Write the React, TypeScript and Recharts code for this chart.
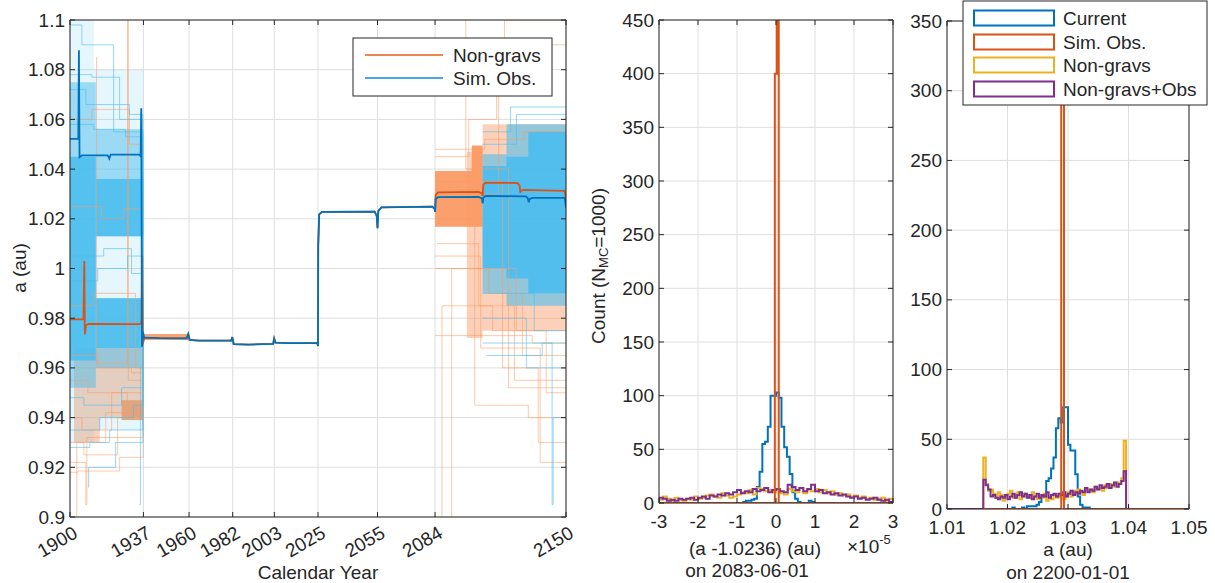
import React from "react";
import { ComposedChart, Line, Area, XAxis, YAxis, CartesianGrid } from "recharts";

const W = 1215;
const H = 583;
const FONT = "Helvetica, Arial, 'Liberation Sans', sans-serif";
const INK = "#262626";
const GRID = "#dedede";

const C_CURRENT = "#0072BD";
const C_SIMOBS = "#D95319";
const C_NONGRAV = "#EDB120";
const C_NGOBS = "#7E2F8E";
const C_CLONE_NG = "#FB9A64";
const C_CLONE_SO = "#4DBEEE";

// ---------- left panel: semi-major axis vs year ----------
const yearTicks = [1900, 1937, 1960, 1982, 2003, 2025, 2055, 2084, 2150];
const aTicks = [0.9, 0.92, 0.94, 0.96, 0.98, 1, 1.02, 1.04, 1.06, 1.08, 1.1];

// nominal orbits [year, a]
const nongravNominalEarly = [
  [1900, 0.9795], [1906.8, 0.9796], [1907.2, 1.003], [1907.5, 0.9735], [1908, 0.9772],
  [1909.5, 0.9777], [1935.3, 0.9776], [1936, 0.9785], [1936.3, 1.0055], [1936.7, 0.9695],
  [1937.2, 0.9712],
];
const simObsNominalEarly = [
  [1900, 1.0522], [1904.2, 1.0522], [1904.5, 1.0878], [1904.8, 1.0448], [1906, 1.0455],
  [1919, 1.0455], [1919.8, 1.0442], [1920.5, 1.0458], [1935, 1.0458], [1935.6, 1.0452],
  [1935.9, 1.0645], [1936.3, 0.9685], [1936.8, 0.9745], [1937.2, 0.9728],
];
const nominalShared = [
  [1937.5, 0.9722], [1945, 0.972], [1958.8, 0.9719], [1959.6, 0.9736], [1960.3, 0.9713],
  [1965, 0.971], [1981.3, 0.971], [1981.8, 0.9724], [1982.5, 0.9696], [1990, 0.9694],
  [2002.4, 0.9697], [2002.9, 0.9718], [2003.6, 0.9702], [2010, 0.97], [2024.6, 0.9701],
  [2025, 0.9688], [2025.1, 1.009], [2025.6, 1.0218], [2027, 1.0228], [2053.5, 1.0229],
  [2054.6, 1.0212], [2055, 1.0162], [2055.4, 1.0232], [2057, 1.0246], [2082.5, 1.0249],
  [2083.8, 1.024],
];
const nongravNominalLate = [
  [2084, 1.0228], [2084.3, 1.0296], [2085.5, 1.0306], [2106, 1.0308], [2107.6, 1.0302],
  [2108, 1.0292], [2108.3, 1.0338], [2109.5, 1.0345], [2125.5, 1.0344], [2126.6, 1.0334],
  [2127, 1.0305], [2127.4, 1.0314], [2129, 1.0316], [2149.2, 1.0312], [2149.6, 1.0302],
  [2150, 1.0262],
];
const simObsNominalLate = [
  [2084, 1.0228], [2084.3, 1.028], [2085.5, 1.0287], [2106, 1.0288], [2107.6, 1.0282],
  [2108, 1.0262], [2108.3, 1.0285], [2109.5, 1.0292], [2129.8, 1.029], [2130.8, 1.0282],
  [2131.2, 1.0266], [2131.6, 1.0279], [2133, 1.0284], [2149.4, 1.0284], [2150, 1.0245],
];

// dense clone envelopes [year, low a, high a], drawn as steps
const ngLowerEarly = [[1902, 0.93, 0.968], [1915, 0.94, 0.968], [1937, 0.94, 0.968]];
const ngDenseEarly = [[1926, 0.939, 0.947], [1937, 0.939, 0.947]];
const ngBand1937 = [[1937.3, 0.9712, 0.9736], [1960, 0.9712, 0.9736]];
const ngMedLate = [[2100, 0.972, 1.047], [2108, 0.975, 1.058], [2150, 0.975, 1.058]];
const ngDenseLate = [[2084, 1.0168, 1.0392], [2102.5, 1.0168, 1.0495], [2108, 1.0168, 1.0495]];

const soFaintEarly = [[1900, 0.93, 1.1], [1912, 0.935, 1.08], [1937, 0.935, 1.08]];
const soMedEarlyA = [[1900, 0.952, 1.075], [1913, 0.952, 1.075]];
const soMedEarlyB = [[1913, 0.96, 0.988], [1937, 0.96, 0.988]];
const soMedEarlyC = [[1913, 1.013, 1.056], [1937, 1.013, 1.056]];
const soDenseEarlyA = [[1900, 0.963, 1.045], [1913, 0.963, 1.045]];
const soDenseEarlyB = [[1913, 0.968, 0.988], [1937, 0.968, 0.988]];
const soDenseEarlyC = [[1913, 1.013, 1.036], [1937, 1.013, 1.036]];
const soMedLate = [[2108, 0.99, 1.046], [2120, 0.985, 1.058], [2150, 0.985, 1.058]];
const soDenseLate = [[2108, 1.0, 1.0412], [2120, 0.996, 1.045], [2131, 0.99, 1.055], [2150, 0.99, 1.055]];

// a few individual clone tracks [year, a], drawn as steps
const ngClonesEarly = [
  [[1900, 0.93], [1907, 0.925], [1924, 0.94], [1936.8, 0.9725], [1937.4, 0.9725]],
  [[1900, 0.955], [1909, 0.95], [1929, 0.945], [1936.6, 0.9725], [1937.4, 0.9725]],
  [[1900, 0.918], [1904, 0.9185], [1925, 0.924], [1936.9, 0.9725], [1937.4, 0.9725]],
  [[1900, 1.06], [1911, 1.064], [1930, 1.05], [1936.5, 0.9725], [1937.4, 0.9725]],
  [[1900, 0.965], [1914, 0.96], [1931, 0.958], [1936.7, 0.9725], [1937.4, 0.9725]],
  [[1900, 0.94], [1906, 0.935], [1921, 0.95], [1936.9, 0.9725], [1937.4, 0.9725]],
  [[1900, 1.025], [1916, 1.02], [1927, 1.024], [1936.6, 0.9725], [1937.4, 0.9725]],
  [[1903, 0.9], [1903.4, 0.93], [1918, 0.942], [1936.8, 0.9725], [1937.4, 0.9725]],
  [[1900, 0.985], [1912, 0.99], [1933, 0.96], [1936.8, 0.9725], [1937.4, 0.9725]],
  [[1913, 1.085], [1913.4, 0.962], [1929, 1.1], [1929.4, 0.955], [1937.4, 0.955]],
  [[1900, 0.922], [1908, 0.905], [1908.5, 0.932], [1936.8, 0.9725], [1937.4, 0.9725]],
];
const soClonesEarly = [
  [[1900, 1.078], [1911, 1.077], [1925, 1.06], [1936.6, 0.9725], [1937.4, 0.9725]],
  [[1900, 1.072], [1908, 1.066], [1930, 1.062], [1936.7, 0.9725], [1937.4, 0.9725]],
  [[1900, 1.098], [1906, 1.09], [1922, 1.055], [1936.8, 0.9725], [1937.4, 0.9725]],
  [[1900, 0.928], [1910, 0.93], [1920, 0.935], [1936.7, 0.9725], [1937.4, 0.9725]],
  [[1900, 0.935], [1915, 0.94], [1932, 0.945], [1936.9, 0.9725], [1937.4, 0.9725]],
  [[1900, 0.948], [1907, 0.945], [1926, 0.952], [1936.8, 0.9725], [1937.4, 0.9725]],
  [[1900, 1.058], [1912, 1.056], [1928, 1.053], [1936.6, 0.9725], [1937.4, 0.9725]],
  [[1900, 0.995], [1914, 1.0], [1929, 1.005], [1936.9, 0.9725], [1937.4, 0.9725]],
  [[1900, 1.005], [1917, 1.008], [1931, 0.998], [1936.6, 0.9725], [1937.4, 0.9725]],
  [[1909, 0.912], [1909.4, 0.92], [1923, 0.93], [1936.8, 0.9725], [1937.4, 0.9725]],
  [[1935, 0.905], [1935.5, 0.96], [1937.4, 0.96]],
];
const ngClonesLate = [
  [[2084, 0.973], [2108, 0.973], [2133, 0.97], [2150, 0.97]],
  [[2084, 1.0], [2111, 0.99], [2128, 0.965], [2150, 0.965]],
  [[2085, 1.01], [2106, 0.985], [2124, 0.955], [2150, 0.955]],
  [[2084, 1.045], [2101, 1.06], [2115, 1.09], [2150, 1.09]],
  [[2084, 1.035], [2118, 0.96], [2136, 0.93], [2150, 0.93]],
  [[2086, 1.02], [2104, 0.945], [2131, 0.94], [2150, 0.94]],
  [[2084, 1.048], [2109, 1.052], [2129, 1.055], [2150, 1.055]],
  [[2087, 0.9], [2087.5, 0.985], [2113, 0.975], [2140, 0.95], [2150, 0.95]],
  [[2084, 1.005], [2107, 0.968], [2137, 0.922], [2150, 0.922]],
  [[2090, 1.03], [2116, 1.07], [2119, 1.1], [2150, 1.1]],
  [[2092, 0.9], [2092.4, 1.0], [2125, 0.975], [2150, 0.975]],
  [[2099, 1.1], [2099.5, 1.04], [2121, 0.952], [2150, 0.952]],
];
const soClonesLate = [
  [[2108, 0.98], [2130, 0.96], [2150, 0.96]],
  [[2108, 1.05], [2125, 1.062], [2150, 1.062]],
  [[2108, 0.99], [2134, 0.975], [2150, 0.975]],
  [[2108, 1.055], [2122, 1.065], [2150, 1.065]],
  [[2108, 0.97], [2143, 0.905], [2143.5, 0.94], [2150, 0.94]],
  [[2110, 0.965], [2138, 0.97], [2150, 0.97]],
];

// ---------- middle panel: histogram on 2083-06-01, x in units of 1e-5 au ----------
const midTicksX = [-3, -2, -1, 0, 1, 2, 3];
const midTicksY = [0, 50, 100, 150, 200, 250, 300, 350, 400, 450];
const midBinStart = -3;
const midBinWidth = 0.1;
const midNonGravs = [
  3, 6, 4, 2, 5, 3, 2, 4, 3, 6,
  4, 5, 7, 8, 6, 5, 9, 7, 5, 6,
  8, 10, 9, 12, 8, 14, 13, 11, 12, 10,
  12, 9, 8, 13, 11, 10, 14, 9, 12, 11,
  13, 10, 12, 9, 11, 8, 9, 7, 8, 6,
  7, 5, 6, 4, 5, 3, 4, 5, 2, 4,
];
const midNonGravsObs = [
  5, 4, 2, 3, 2, 4, 3, 4, 5, 3,
  5, 6, 4, 7, 6, 8, 7, 9, 8, 10,
  12, 9, 11, 10, 13, 11, 12, 14, 10, 12,
  13, 11, 10, 17, 15, 12, 14, 11, 13, 17,
  11, 12, 9, 10, 8, 9, 7, 8, 6, 5,
  6, 4, 5, 3, 4, 5, 3, 2, 3, 1,
];
const midCurrentStart = -0.84;
const midCurrentWidth = 0.07;
const midCurrent = [1, 2, 2, 3, 4, 15, 29, 55, 57, 71, 100, 100, 103, 98, 71, 52, 43, 27, 10, 4, 1, 0, 0, 0, 2, 1];
const midSimObsStart = -0.03;
const midSimObsWidth = 0.05;
const midSimObs = [400, 520];

// ---------- right panel: histogram on 2200-01-01 ----------
const rightTicksX = [1.01, 1.02, 1.03, 1.04, 1.05];
const rightTicksY = [0, 50, 100, 150, 200, 250, 300, 350];
const rightBinStart = 1.016;
const rightBinWidth = 0.0004;
const rightNonGravs = [
  37, 18, 13, 14, 11, 8, 12, 10, 6, 9,
  11, 13, 8, 10, 12, 7, 9, 11, 10, 8,
  12, 9, 7, 10, 8, 11, 6, 9, 7, 10,
  8, 9, 11, 7, 10, 12, 9, 13, 11, 14,
  12, 10, 15, 13, 14, 12, 16, 14, 15, 13,
  17, 15, 18, 16, 17, 19, 18, 22, 49,
];
const rightNonGravsObs = [
  21, 17, 14, 9, 10, 8, 7, 9, 8, 10,
  7, 9, 11, 8, 10, 12, 9, 11, 8, 10,
  7, 9, 11, 8, 10, 9, 12, 8, 10, 11,
  9, 11, 10, 12, 9, 11, 13, 10, 12, 11,
  13, 12, 15, 12, 14, 13, 16, 14, 17, 15,
  16, 18, 15, 17, 19, 16, 18, 20, 27,
];
const rightCurrentStart = 1.0208;
const rightCurrent = [1, 0, 0, 0, 1, 0, 2, 2, 2, 2, 3, 5, 9, 10, 20, 22, 29, 37, 58, 65, 62, 73, 73, 46, 42, 42, 25, 9, 3, 1, 1, 1];
const rightSimObsStart = 1.02888;
const rightSimObsWidth = 0.00046;
const rightSimObs = [600];

// ---------- helpers ----------
const toLine = (rows: number[][]) => rows.map(([x, y]) => ({ x, y }));
const toBand = (rows: number[][]) => rows.map(([x, lo, hi]) => ({ x, r: [lo, hi] }));

function stairs(start: number, width: number, counts: number[], lo: number, hi: number) {
  const rows = [{ x: lo, y: 0 }];
  counts.forEach((c, i) => rows.push({ x: start + i * width, y: c }));
  rows.push({ x: start + counts.length * width, y: 0 });
  rows.push({ x: hi, y: 0 });
  return rows;
}

const txt = { fontFamily: FONT, fill: INK };

const noTick = () => <g />;
const yearTick = (p: any) => (
  <text transform={`translate(${p.x + 2},${p.y + 8}) rotate(-30)`} textAnchor="end" dominantBaseline="hanging" fontSize={19} {...txt}>
    {p.payload.value}
  </text>
);
const makeBottomTick = (fmt: (v: number) => string) => (p: any) => (
  <text x={p.x} y={p.y + 11} textAnchor="middle" dominantBaseline="hanging" fontSize={19} {...txt}>
    {fmt(p.payload.value)}
  </text>
);
const makeLeftTick = (fmt: (v: number) => string) => (p: any) => (
  <text x={p.x - 5} y={p.y} textAnchor="end" dominantBaseline="central" fontSize={19} {...txt}>
    {fmt(p.payload.value)}
  </text>
);
const trim = (v: number) => String(Number(v.toFixed(2)));

// axes are 1px thick, so the margins are pulled in by one pixel on each side
const margins = (l: number, t: number, r: number, b: number) => ({ left: l - 1, top: t - 1, right: W - r - 1, bottom: H - b - 1 });

const layer: React.CSSProperties = { position: "absolute", left: 0, top: 0 };

const axisCommon = { stroke: INK, tickSize: -5, tickMargin: 5, interval: 0 as const, allowDataOverflow: true, type: "number" as const };

const frame = (xd: number[], yd: number[], xt: number[], yt: number[], xTick: any, yTick: any) => [
  <CartesianGrid key="g" xAxisId="b" yAxisId="l" stroke={GRID} />,
  <XAxis key="xb" xAxisId="b" dataKey="x" domain={xd} ticks={xt} height={1} tick={xTick} {...axisCommon} />,
  <XAxis key="xt" xAxisId="t" orientation="top" dataKey="x" domain={xd} ticks={xt} height={1} tick={noTick} {...axisCommon} />,
  <YAxis key="yl" yAxisId="l" domain={yd} ticks={yt} width={1} tick={yTick} {...axisCommon} />,
  <YAxis key="yr" yAxisId="r" orientation="right" domain={yd} ticks={yt} width={1} tick={noTick} {...axisCommon} />,
];

const histLine = (key: string, data: any[], color: string) => (
  <Line key={key} xAxisId="b" yAxisId="l" data={data} dataKey="y" type="stepAfter" stroke={color} strokeWidth={2} dot={false} isAnimationActive={false} />
);
const band = (key: string, rows: number[][], color: string, op: number) => (
  <Area key={key} xAxisId="b" yAxisId="l" data={toBand(rows)} dataKey="r" type="stepAfter" stroke="none" fill={color} fillOpacity={op} isAnimationActive={false} />
);
const clone = (key: string, rows: number[][], color: string, op: number) => (
  <Line key={key} xAxisId="b" yAxisId="l" data={toLine(rows)} dataKey="y" type="stepAfter" stroke={color} strokeOpacity={op} strokeWidth={1} dot={false} isAnimationActive={false} />
);

export default function App() {
  const nongravNominal = [...nongravNominalEarly, ...nominalShared, ...nongravNominalLate];
  const simObsNominal = [...simObsNominalEarly, ...nominalShared, ...simObsNominalLate];

  return (
    <div style={{ position: "absolute", left: 0, top: 0, width: W, height: H, background: "#fff" }}>
      {/* left: a vs calendar year */}
      <div style={layer}>
        <ComposedChart width={W} height={H} margin={margins(70, 20, 566, 517)}>
          {frame([1900, 2150], [0.9, 1.1], yearTicks, aTicks, yearTick, makeLeftTick(trim))}
          {ngClonesEarly.map((c, i) => clone("nce" + i, c, C_CLONE_NG, 0.55))}
          {ngClonesLate.map((c, i) => clone("ncl" + i, c, C_CLONE_NG, 0.55))}
          {band("ng1", ngLowerEarly, C_CLONE_NG, 0.45)}
          {band("ng2", ngDenseEarly, C_CLONE_NG, 0.9)}
          {band("ng3", ngBand1937, C_CLONE_NG, 0.9)}
          {band("ng4", ngMedLate, C_CLONE_NG, 0.45)}
          {band("ng5", ngDenseLate, C_CLONE_NG, 0.95)}
          {soClonesEarly.map((c, i) => clone("sce" + i, c, C_CLONE_SO, 0.6))}
          {soClonesLate.map((c, i) => clone("scl" + i, c, C_CLONE_SO, 0.6))}
          {band("so0", soFaintEarly, C_CLONE_SO, 0.14)}
          {band("so1", soMedEarlyA, C_CLONE_SO, 0.5)}
          {band("so2", soMedEarlyB, C_CLONE_SO, 0.5)}
          {band("so3", soMedEarlyC, C_CLONE_SO, 0.5)}
          {band("so4", soDenseEarlyA, C_CLONE_SO, 0.9)}
          {band("so5", soDenseEarlyB, C_CLONE_SO, 0.9)}
          {band("so6", soDenseEarlyC, C_CLONE_SO, 0.9)}
          {band("so7", soMedLate, C_CLONE_SO, 0.6)}
          {band("so8", soDenseLate, C_CLONE_SO, 0.95)}
          <Line xAxisId="b" yAxisId="l" data={toLine(nongravNominal)} dataKey="y" type="linear" stroke={C_SIMOBS} strokeWidth={1.8} dot={false} isAnimationActive={false} />
          <Line xAxisId="b" yAxisId="l" data={toLine(simObsNominal)} dataKey="y" type="linear" stroke={C_CURRENT} strokeWidth={1.8} dot={false} isAnimationActive={false} />
        </ComposedChart>
      </div>

      {/* middle: histogram on 2083-06-01 */}
      <div style={layer}>
        <ComposedChart width={W} height={H} margin={margins(659, 20, 893, 503)}>
          {frame([-3, 3], [0, 450], midTicksX, midTicksY, makeBottomTick((v) => String(v)), makeLeftTick((v) => String(v)))}
          {histLine("cur", stairs(midCurrentStart, midCurrentWidth, midCurrent, -3, 3), C_CURRENT)}
          {histLine("ng", stairs(midBinStart, midBinWidth, midNonGravs, -3, 3), C_NONGRAV)}
          {histLine("ngo", stairs(midBinStart, midBinWidth, midNonGravsObs, -3, 3), C_NGOBS)}
          {histLine("so", stairs(midSimObsStart, midSimObsWidth, midSimObs, -3, 3), C_SIMOBS)}
        </ComposedChart>
      </div>

      {/* right: histogram on 2200-01-01 */}
      <div style={layer}>
        <ComposedChart width={W} height={H} margin={margins(947, 21, 1189, 509)}>
          {frame([1.01, 1.05], [0, 350], rightTicksX, rightTicksY, makeBottomTick((v) => v.toFixed(2)), makeLeftTick((v) => String(v)))}
          {histLine("cur", stairs(rightCurrentStart, rightBinWidth, rightCurrent, 1.01, 1.05), C_CURRENT)}
          {histLine("ng", stairs(rightBinStart, rightBinWidth, rightNonGravs, 1.01, 1.05), C_NONGRAV)}
          {histLine("ngo", stairs(rightBinStart, rightBinWidth, rightNonGravsObs, 1.01, 1.05), C_NGOBS)}
          {histLine("so", stairs(rightSimObsStart, rightSimObsWidth, rightSimObs, 1.016, 1.05), C_SIMOBS)}
        </ComposedChart>
      </div>

      {/* labels and legends */}
      <svg width={W} height={H} style={layer}>
        <text transform="translate(19,268) rotate(-90)" textAnchor="middle" dominantBaseline="central" fontSize={19} {...txt}>a (au)</text>
        <text x={318} y={572} textAnchor="middle" dominantBaseline="central" fontSize={19} {...txt}>Calendar Year</text>

        <text transform="translate(598,266) rotate(-90)" textAnchor="middle" dominantBaseline="central" fontSize={19} {...txt}>
          Count (N<tspan dy={5} fontSize={13}>MC</tspan><tspan dy={-5}>=1000)</tspan>
        </text>
        <text x={755} y={548} textAnchor="middle" dominantBaseline="central" fontSize={19} {...txt}>(a -1.0236) (au)</text>
        <text x={747} y={570} textAnchor="middle" dominantBaseline="central" fontSize={19} {...txt}>on 2083-06-01</text>
        <text x={847} y={553} fontSize={19} {...txt}>
          ×10<tspan dy={-9} fontSize={13}>-5</tspan>
        </text>

        <text x={1068} y={549} textAnchor="middle" dominantBaseline="central" fontSize={19} {...txt}>a (au)</text>
        <text x={1068} y={572} textAnchor="middle" dominantBaseline="central" fontSize={19} {...txt}>on 2200-01-01</text>

        {/* left legend */}
        <rect x={353} y={38} width={199} height={58} fill="#fff" stroke={INK} strokeWidth={1} />
        <line x1={365} x2={443} y1={55} y2={55} stroke="#EE8550" strokeWidth={2} />
        <text x={453} y={55} dominantBaseline="central" fontSize={19} {...txt}>Non-gravs</text>
        <line x1={365} x2={443} y1={78} y2={78} stroke="#4AA8E8" strokeWidth={2} />
        <text x={453} y={78} dominantBaseline="central" fontSize={19} {...txt}>Sim. Obs.</text>

        {/* right legend */}
        <rect x={963} y={1} width={244} height={104} fill="#fff" stroke={INK} strokeWidth={1} />
        {[
          ["Current", C_CURRENT, 18],
          ["Sim. Obs.", C_SIMOBS, 42],
          ["Non-gravs", C_NONGRAV, 65],
          ["Non-gravs+Obs", C_NGOBS, 89],
        ].map(([label, color, y]) => (
          <g key={label as string}>
            <rect x={974} y={(y as number) - 7.5} width={80} height={15} fill="#fff" stroke={color as string} strokeWidth={2} />
            <text x={1063} y={y as number} dominantBaseline="central" fontSize={19} {...txt}>{label}</text>
          </g>
        ))}
      </svg>
    </div>
  );
}
